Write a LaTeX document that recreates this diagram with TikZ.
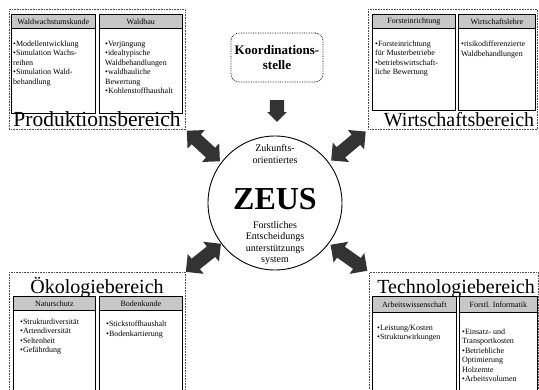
\documentclass[tikz,border=0pt]{standalone}
\usepackage{fontspec}
\setmainfont{Liberation Serif}
\usepackage{tikz}
\usetikzlibrary{positioning,shapes.arrows}

\begin{document}
\begin{tikzpicture}[x=1pt, y=-1pt,
	bereich/.style={draw=black!70, densely dotted, line width=0.6pt, anchor=north west, inner sep=0pt},
	fach/.style={draw, line width=0.7pt, anchor=north west, inner sep=0pt},
	kopf/.style={draw, line width=0.7pt, fill=black!22, anchor=north west, minimum height=14pt, inner sep=0pt, font=\fontsize{8}{9}\selectfont},
	inhalt/.style={anchor=north west, align=left, inner sep=0pt, font=\fontsize{8}{9.5}\selectfont},
	titel/.style={anchor=base, inner sep=0pt, font=\fontsize{20}{22}\selectfont},
	koord/.style={draw, densely dotted, line width=0.7pt, rounded corners=8pt, minimum width=92pt, minimum height=49pt, inner sep=0pt, align=center, font=\bfseries\fontsize{13}{15}\selectfont},
	kreis/.style={circle, draw, line width=0.9pt, minimum size=134pt, inner sep=0pt},
	kreistext/.style={align=center, inner sep=0pt, font=\fontsize{10}{11.5}\selectfont},
	doppelpfeil/.style={double arrow, fill=black!80, draw=none, minimum height=45pt, inner sep=6.5pt, double arrow head extend=6pt, sloped},
	pfeil/.style={single arrow, fill=black!80, draw=none, minimum height=21pt, inner sep=7pt, single arrow head extend=2.5pt, sloped}]
		\clip (0,0) rectangle (539,389);

		% Produktionsbereich
		\node[bereich, minimum width=176pt, minimum height=120pt] (PROD) at (9,9) {};
		\node[fach, minimum width=84pt, minimum height=99pt] (WWK) at (11,14) {};
		\node[kopf, minimum width=84pt] (WWKK) at (WWK.north west) {Waldwachstumskunde};
		\node[inhalt] (WWKT) at ([shift={(2,12)}]WWKK.south west) {•Modellentwicklung\\•Simulation Wachs-\\reihen\\•Simulation Wald-\\behandlung};
		\node[fach, minimum width=83pt, minimum height=99pt] (WB) at (99,14) {};
		\node[kopf, minimum width=83pt] (WBK) at (WB.north west) {Waldbau};
		\node[inhalt] (WBT) at ([shift={(6,12)}]WBK.south west) {•Verjüngung\\•idealtypische\\Waldbehandlungen\\•waldbauliche\\Bewertung\\•Kohlenstoffhaushalt};
		\node[titel, font=\fontsize{21.5}{22}\selectfont] (PRODT) at (97,126) {Produktionsbereich};

		% Wirtschaftsbereich
		\node[bereich, minimum width=169pt, minimum height=120pt] (WIRT) at (368,9) {};
		\node[fach, minimum width=83pt, minimum height=96pt] (FE) at (372,14) {};
		\node[kopf, minimum width=83pt] (FEK) at (FE.north west) {Forsteinrichtung};
		\node[inhalt] (FET) at ([shift={(3,12)}]FEK.south west) {•Forsteinrichtung\\für Musterbetriebe\\•betriebswirtschaft-\\liche Bewertung};
		\node[fach, minimum width=77pt, minimum height=96pt] (WL) at (458,14) {};
		\node[kopf, minimum width=77pt] (WLK) at (WL.north west) {Wirtschaftslehre};
		\node[inhalt] (WLT) at ([shift={(3,12)}]WLK.south west) {•risikodifferenzierte\\Waldbehandlungen};
		\node[titel] (WIRTT) at (459,126) {Wirtschaftsbereich};

		% Oekologiebereich
		\node[bereich, minimum width=176pt, minimum height=130pt] (OEKO) at (9,272) {};
		\node[titel] (OEKOT) at (97,293) {Ökologiebereich};
		\node[fach, minimum width=82pt, minimum height=100pt] (NS) at (13,296) {};
		\node[kopf, minimum width=82pt] (NSK) at (NS.north west) {Naturschutz};
		\node[inhalt] (NST) at ([shift={(7,8)}]NSK.south west) {•Strukturdiversität\\•Artendiversität\\•Seltenheit\\•Gefährdung};
		\node[fach, minimum width=83pt, minimum height=100pt] (BK) at (99,296) {};
		\node[kopf, minimum width=83pt] (BKK) at (BK.north west) {Bodenkunde};
		\node[inhalt] (BKT) at ([shift={(7,10)}]BKK.south west) {•Stickstoffhaushalt\\•Bodenkartierung};

		% Technologiebereich
		\node[bereich, minimum width=169pt, minimum height=130pt] (TECH) at (369,272) {};
		\node[titel] (TECHT) at (456,293) {Technologiebereich};
		\node[fach, minimum width=84pt, minimum height=100pt] (AW) at (372,296) {};
		\node[kopf, minimum width=84pt, minimum height=16pt] (AWK) at (AW.north west) {Arbeitswissenschaft};
		\node[inhalt] (AWT) at ([shift={(5,12)}]AWK.south west) {•Leistung/Kosten\\•Strukturwirkungen};
		\node[fach, minimum width=78pt, minimum height=100pt] (FI) at (459,296) {};
		\node[kopf, minimum width=78pt, minimum height=16pt] (FIK) at (FI.north west) {Forstl. Informatik};
		\node[inhalt] (FIT) at ([shift={(3,16)}]FIK.south west) {•Einsatz- und\\Transportkosten\\•Betriebliche\\Optimierung\\Holzernte\\•Arbeitsvolumen};

		% Mitte
		\node[koord] (KOORD) at (277,57.5) {Koordinations-\\stelle};
		\node[kreis] (ZEUS) at (275,203) {};
		\node[kreistext] (ZUKUNFT) at (275,154) {Zukunfts-\\orientiertes};
		\node[inner sep=0pt, font=\bfseries\fontsize{32}{32}\selectfont] (NAME) at (275,199) {ZEUS};
		\node[kreistext] (FORST) at (275,243) {Forstliches\\Entscheidungs\\unterstützungs\\system};

		\path	(KOORD.south)		--	node[pfeil, pos=0.47]	{}	(KOORD.south |- ZEUS.north)
				(PROD.south east)	--	node[doppelpfeil]		{}	(ZEUS.143)
				(WIRT.south west)	--	node[doppelpfeil]		{}	(ZEUS.37)
				(OEKO.north east)	--	node[doppelpfeil]		{}	(ZEUS.217)
				(TECH.north west)	--	node[doppelpfeil]		{}	(ZEUS.-37);
\end{tikzpicture}
\end{document}
